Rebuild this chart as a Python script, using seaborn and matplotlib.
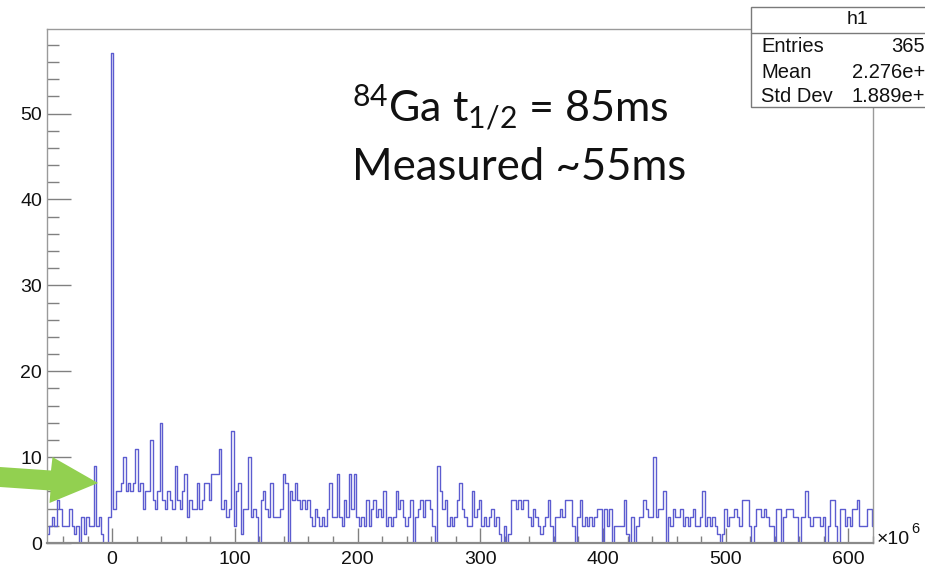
import numpy as np
import pandas as pd
import matplotlib
matplotlib.use("Agg")
import matplotlib.pyplot as plt
from matplotlib.patches import Polygon, Rectangle
from matplotlib.lines import Line2D
import seaborn as sns

# Time histogram h1 (x in units of 1e6), bins of width 2 starting at -53
bin_start = -53
bin_width = 2
counts = [
    1, 2, 3, 2, 5, 4, 2, 2, 2, 4,
    2, 1, 2, 0, 3, 1, 3, 2, 2, 9,
    2, 3, 1, 0, 0, 3, 57, 4, 6, 6,
    7, 10, 6, 7, 6, 7, 11, 6, 7, 4,
    6, 6, 12, 5, 4, 6, 14, 5, 4, 6,
    5, 4, 9, 5, 4, 6, 8, 3, 5, 4,
    4, 7, 4, 5, 7, 7, 5, 8, 8, 8,
    11, 4, 5, 3, 4, 13, 2, 6, 7, 1,
    4, 4, 10, 3, 4, 3, 0, 5, 6, 4,
    3, 7, 3, 3, 3, 4, 8, 7, 0, 6,
    5, 7, 5, 4, 5, 4, 5, 3, 2, 4,
    3, 2, 3, 2, 4, 7, 3, 3, 8, 3,
    2, 5, 3, 8, 4, 8, 3, 2, 3, 2,
    5, 2, 4, 5, 3, 4, 3, 6, 2, 3,
    2, 3, 6, 4, 5, 3, 2, 3, 5, 0,
    3, 4, 5, 3, 5, 5, 4, 2, 0, 9,
    6, 4, 5, 2, 3, 2, 3, 5, 7, 4,
    3, 2, 2, 6, 3, 4, 5, 2, 3, 2,
    3, 4, 2, 3, 1, 0, 2, 0, 1, 5,
    5, 4, 5, 4, 5, 5, 3, 2, 4, 3,
    2, 1, 2, 3, 5, 2, 0, 3, 3, 4,
    3, 5, 5, 5, 2, 0, 3, 5, 2, 3,
    2, 3, 2, 3, 4, 4, 0, 4, 2, 4,
    0, 2, 2, 2, 2, 5, 1, 0, 3, 0,
    2, 3, 3, 5, 4, 3, 3, 10, 3, 4,
    4, 6, 0, 3, 2, 4, 3, 3, 4, 2,
    3, 2, 3, 4, 2, 2, 3, 6, 2, 3,
    2, 3, 2, 1, 0, 1, 4, 2, 3, 3,
    4, 3, 2, 5, 5, 5, 2, 0, 2, 4,
    4, 3, 4, 3, 2, 2, 0, 4, 4, 0,
    3, 4, 4, 4, 3, 3, 0, 3, 3, 6,
    3, 2, 3, 3, 3, 2, 3, 0, 2, 5,
    5, 2, 0, 4, 4, 2, 3, 2, 4, 4,
    5, 2, 2, 2, 4, 4, 2,
]

x_major_ticks = [0, 100, 200, 300, 400, 500, 600]
y_major_ticks = [0, 10, 20, 30, 40, 50]

stats_title = "h1"
stats_names = ["Entries", "Mean", "Std Dev"]
stats_values = ["365", "2.276e+", "1.889e+"]

note_line1 = r"$\mathregular{^{84}}$Ga t$\mathregular{_{1/2}}$ = 85ms"
note_line2 = "Measured ~55ms"

edges = [float(bin_start + bin_width * i) for i in range(len(counts) + 1)]
centers = [0.5 * (a + b) for a, b in zip(edges[:-1], edges[1:])]
df = pd.DataFrame({"time": centers, "entries": counts})

sns.set_style("white")
plt.rcParams["font.family"] = ["Liberation Sans", "DejaVu Sans"]

W, H = 925, 567
fig = plt.figure(figsize=(W / 100, H / 100), dpi=100)


def fx(px):
    return px / W


def fy(py):
    return 1 - py / H


ax = fig.add_axes([fx(47), fy(543), fx(873) - fx(47), fy(29) - fy(543)])

sns.histplot(data=df, x="time", weights="entries", bins=edges,
             element="step", fill=False, color="#5c5cd0", linewidth=1.0,
             ax=ax)

ax.set_xlim(-53, 620)
ax.set_ylim(0, 59.85)
ax.set_xlabel("")
ax.set_ylabel("")
ax.set_xticks(x_major_ticks)
ax.set_yticks(y_major_ticks)
ax.xaxis.set_minor_locator(matplotlib.ticker.MultipleLocator(20))
ax.yaxis.set_minor_locator(matplotlib.ticker.MultipleLocator(2))

tick_col = "#808080"
ax.tick_params(which="both", left=True, bottom=True, top=False, right=False)
ax.tick_params(axis="y", which="major", direction="in", length=17.3,
               width=1.0, color=tick_col, labelsize=14, pad=3.5,
               labelcolor="#111111")
ax.tick_params(axis="y", which="minor", direction="in", length=8.6,
               width=1.0, color=tick_col)
ax.tick_params(axis="x", which="major", direction="in", length=10.5,
               width=1.0, color=tick_col, labelsize=14, pad=5.5,
               labelcolor="#111111")
ax.tick_params(axis="x", which="minor", direction="in", length=5.3,
               width=1.0, color=tick_col)

for side, sp in ax.spines.items():
    sp.set_color("#9a9a9a")
    sp.set_linewidth(1.0)
ax.spines["bottom"].set_color("#8a8a8a")
ax.spines["bottom"].set_linewidth(1.6)

# axis exponent
fig.text(fx(877), fy(544), "\u00d710", fontsize=14, ha="left", va="baseline",
         color="#111111")
fig.text(fx(911), fy(533), "6", fontsize=10.5, ha="left", va="baseline",
         color="#111111")

# statistics box
box = Rectangle((fx(751), fy(107)), fx(200), fy(7) - fy(107),
                transform=fig.transFigure, facecolor="white",
                edgecolor="#7a7a7a", linewidth=1.0, zorder=5)
fig.patches.append(box)
fig.lines.append(Line2D([fx(751), fx(930)], [fy(33), fy(33)],
                        transform=fig.transFigure, color="#7a7a7a",
                        linewidth=1.0, zorder=6))
fig.text(fx(858), fy(20), stats_title, fontsize=14, ha="center", va="center",
         color="#111111", zorder=7)
for i, (name, val) in enumerate(zip(stats_names, stats_values)):
    yc = [47, 72, 96][i]
    fig.text(fx(761), fy(yc), name, fontsize=14.5, ha="left", va="center",
             color="#111111", zorder=7)
    fig.text(fx(925), fy(yc), val, fontsize=14.5, ha="right", va="center",
             color="#111111", zorder=7)

# annotation text
fig.text(fx(352), fy(122), note_line1, fontsize=31, family="Lato",
         ha="left", va="baseline", color="#111111")
fig.text(fx(352), fy(180), note_line2, fontsize=31.5, family="Lato",
         ha="left", va="baseline", color="#111111")

# green arrow pointing at the first bins after t=0
arrow_pts = [(0, 467), (51, 470.5), (52.5, 457), (98, 483), (49.5, 503),
             (50.5, 490.5), (0, 487)]
arrow = Polygon([(fx(x), fy(y)) for x, y in arrow_pts], closed=True,
                transform=fig.transFigure, facecolor="#92d050",
                edgecolor="none", zorder=8)
fig.patches.append(arrow)

fig.savefig("out.png", dpi=100)
